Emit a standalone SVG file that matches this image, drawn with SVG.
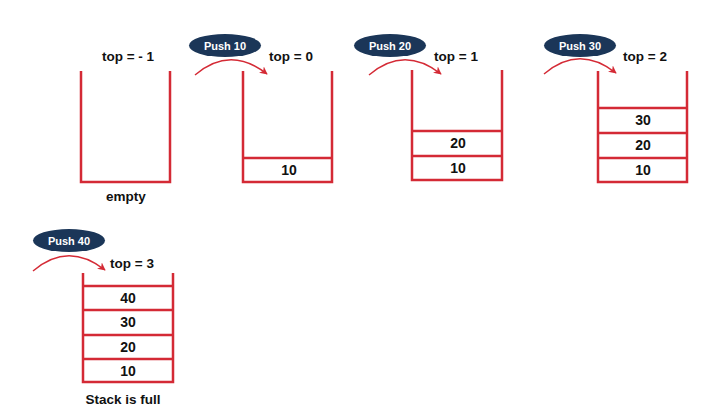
<svg xmlns="http://www.w3.org/2000/svg" width="720" height="420" viewBox="0 0 720 420">
<defs>
<marker id="ah" viewBox="0 0 10 10" refX="9" refY="5" markerWidth="8" markerHeight="8" orient="auto" markerUnits="userSpaceOnUse">
<path d="M0,0 L10,5 L0,10 L3,5 Z" fill="#d42a35"/>
</marker>
<style>
.wall{fill:none;stroke:#d42a35;stroke-width:2.5;}
.arc{fill:none;stroke:#d42a35;stroke-width:1.4;}
.lbl{font-family:"Liberation Sans",Arial,sans-serif;font-weight:bold;font-size:13.5px;fill:#111;text-anchor:middle;}
.val{font-family:"Liberation Sans",Arial,sans-serif;font-weight:bold;font-size:14px;fill:#111;text-anchor:middle;}
.pill{fill:#1b3658;}
.pt{font-family:"Liberation Sans",Arial,sans-serif;font-weight:bold;font-size:11px;fill:#fff;text-anchor:middle;}
</style>
</defs>
<rect width="720" height="420" fill="#fff"/>

<g id="stack0">
<path class="wall" d="M81,71 V182 H170 V71"/>
<text class="lbl" x="128" y="61">top = - 1</text>
<text class="lbl" x="126" y="201">empty</text>
</g>

<g id="push10">
<ellipse class="pill" cx="225" cy="45.5" rx="36" ry="11.5"/>
<text class="pt" x="225" y="49.5">Push 10</text>
</g>
<g id="stack1">
<path class="wall" d="M243,71 V182 H332 V71 M243,158 H332"/>
<text class="lbl" x="291" y="61">top = 0</text>
<text class="val" x="289" y="175">10</text>
</g>

<g id="push20">
<ellipse class="pill" cx="390" cy="45.5" rx="36" ry="11.5"/>
<text class="pt" x="390" y="49.5">Push 20</text>
</g>
<g id="stack2">
<path class="wall" d="M412,70 V180 H502 V70 M412,131 H502 M412,156 H502"/>
<text class="lbl" x="456" y="61">top = 1</text>
<text class="val" x="458" y="148">20</text>
<text class="val" x="458" y="173">10</text>
</g>

<g id="push30">
<ellipse class="pill" cx="580" cy="45.5" rx="36" ry="11.5"/>
<text class="pt" x="580" y="49.5">Push 30</text>
</g>
<g id="stack3">
<path class="wall" d="M598,71 V182 H687 V71 M598,108 H687 M598,133 H687 M598,158 H687"/>
<text class="lbl" x="645" y="61">top = 2</text>
<text class="val" x="643" y="125">30</text>
<text class="val" x="643" y="150">20</text>
<text class="val" x="643" y="175">10</text>
</g>

<g id="push40">
<ellipse class="pill" cx="69" cy="240.5" rx="36" ry="11.5"/>
<text class="pt" x="69" y="244.5">Push 40</text>
</g>
<g id="stack4">
<path class="wall" d="M83,273 V382 H173 V273 M83,286 H173 M83,310 H173 M83,335 H173 M83,359 H173"/>
<text class="lbl" x="132" y="268">top = 3</text>
<text class="val" x="128" y="303">40</text>
<text class="val" x="128" y="327">30</text>
<text class="val" x="128" y="352">20</text>
<text class="val" x="128" y="376">10</text>
<text class="lbl" x="123" y="404">Stack is full</text>
</g>

<g id="connectors">
<path class="arc" d="M195,75 Q230,45 267,74" marker-end="url(#ah)"/>
<path class="arc" d="M369,75 Q404,45 441,74" marker-end="url(#ah)"/>
<path class="arc" d="M544,74 Q579,44 616,73" marker-end="url(#ah)"/>
<path class="arc" d="M33,271 Q68,241 105,270" marker-end="url(#ah)"/>
</g>
</svg>
